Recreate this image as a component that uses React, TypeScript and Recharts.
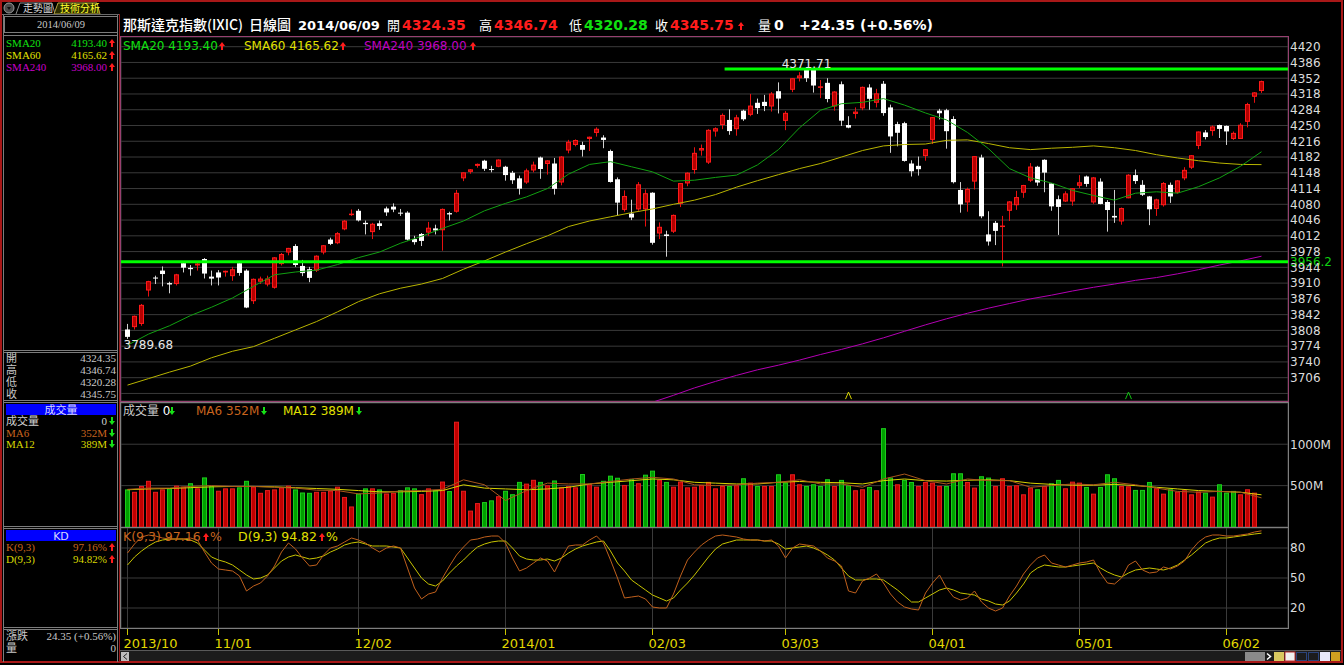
import React from "react";
import { ComposedChart, Bar, Line, XAxis, YAxis, CartesianGrid, ReferenceLine, ReferenceDot } from "recharts";

// NASDAQ (IXIC) daily, 2013/10/15 .. 2014/06/09, 163 sessions
const opens = [
  3810, 3815, 3822, 3894, 3922, 3937, 3910, 3908, 3953, 3943, 3948, 3962, 3924, 3933, 3933, 3925, 3953, 3937, 3871, 3913,
  3907, 3900, 3951, 3976, 3990, 3947, 3940, 3937, 3976, 4004, 3996, 4026, 4057, 4066, 4040, 4020, 4039, 4071, 4075, 4062,
  4062, 4005, 4016, 4019, 4028, 4024, 4061, 4064, 4136, 4150, 4163, 4174, 4156, 4161, 4161, 4148, 4136, 4127, 4153, 4181,
  4167, 4168, 4127, 4196, 4208, 4208, 4221, 4234, 4224, 4195, 4134, 4068, 4060, 4069, 4069, 4105, 4017, 4015, 4021, 4081,
  4125, 4154, 4196, 4170, 4237, 4251, 4262, 4242, 4282, 4273, 4299, 4301, 4291, 4324, 4260, 4327, 4352, 4370, 4370, 4333,
  4342, 4291, 4339, 4251, 4275, 4287, 4332, 4299, 4340, 4289, 4253, 4255, 4168, 4163, 4184, 4219, 4282, 4283, 4264, 4111,
  4084, 4129, 4181, 4015, 4040, 4032, 4066, 4078, 4105, 4131, 4161, 4176, 4125, 4091, 4086, 4086, 4120, 4140, 4084, 4129,
  4085, 4055, 4043, 4093, 4143, 4122, 4097, 4070, 4078, 4122, 4105, 4136, 4159, 4206, 4235, 4238, 4251, 4249, 4221, 4221,
  4258, 4312, 4324.35,
];
const highs = [
  3822, 3840, 3865, 3915, 3926, 3946, 3913, 3930, 3957, 3949, 3955, 3964, 3937, 3938, 3937, 3945, 3955, 3940, 3920, 3924,
  3926, 3966, 3975, 3986, 3994, 3960, 3945, 3970, 3992, 4008, 4020, 4046, 4069, 4070, 4045, 4040, 4045, 4075, 4082, 4070,
  4065, 4012, 4018, 4042, 4036, 4071, 4064, 4111, 4149, 4156, 4168, 4176, 4163, 4177, 4163, 4152, 4142, 4157, 4172, 4183,
  4175, 4180, 4184, 4219, 4220, 4215, 4226, 4246, 4229, 4198, 4138, 4110, 4090, 4128, 4112, 4106, 4041, 4023, 4058, 4126,
  4149, 4203, 4209, 4242, 4246, 4276, 4285, 4273, 4284, 4318, 4308, 4316, 4322, 4343, 4281, 4352, 4365, 4371.71, 4371, 4348,
  4352, 4324, 4345, 4270, 4289, 4334, 4339, 4329, 4346, 4295, 4258, 4258, 4175, 4183, 4199, 4268, 4286, 4286, 4270, 4128,
  4116, 4184, 4187, 4065, 4044, 4055, 4087, 4109, 4122, 4169, 4163, 4177, 4125, 4099, 4108, 4115, 4143, 4142, 4139, 4136,
  4089, 4111, 4073, 4145, 4155, 4132, 4098, 4092, 4128, 4127, 4132, 4160, 4186, 4237, 4240, 4250, 4252, 4250, 4237, 4255,
  4299, 4322, 4346.74,
];
const lows = [
  3789.68, 3810, 3818, 3881, 3908, 3903, 3888, 3905, 3933, 3926, 3937, 3920, 3905, 3905, 3924, 3915, 3926, 3856, 3865, 3908,
  3903, 3898, 3948, 3970, 3945, 3925, 3912, 3934, 3972, 3992, 3994, 4024, 4055, 4043, 4015, 4005, 4025, 4055, 4063, 4055,
  4002, 3993, 3990, 4012, 4015, 3980, 4045, 4062, 4130, 4146, 4159, 4152, 4149, 4160, 4131, 4124, 4101, 4124, 4149, 4135,
  4144, 4101, 4121, 4190, 4205, 4183, 4195, 4226, 4201, 4127, 4056, 4064, 4046, 4066, 4032, 3993, 4005, 3967, 4018, 4074,
  4119, 4146, 4185, 4167, 4226, 4242, 4230, 4228, 4260, 4270, 4275, 4281, 4280, 4276, 4240, 4322, 4345, 4344, 4321, 4309,
  4300, 4282, 4249, 4244, 4265, 4283, 4284, 4289, 4271, 4191, 4205, 4172, 4140, 4142, 4174, 4210, 4263, 4200, 4125, 4062,
  4064, 4112, 4050, 3991, 3992, 3946, 4044, 4068, 4094, 4128, 4120, 4106, 4066, 4014, 4085, 4077, 4115, 4118, 4081, 4080,
  4021, 4040, 4036, 4093, 4124, 4098, 4035, 4055, 4075, 4083, 4103, 4132, 4156, 4199, 4220, 4228, 4223, 4208, 4219, 4221,
  4246, 4299, 4320.28,
];
const closes = [
  3794.01, 3839.43, 3863.15, 3914.28, 3920.05, 3929.57, 3907.07, 3928.96, 3943.36, 3940.13, 3952.34, 3930.62, 3919.71, 3922.04, 3936.59, 3939.86, 3931.95, 3857.33, 3919.23, 3919.79,
  3919.92, 3965.58, 3972.74, 3985.97, 3949.07, 3931.55, 3921.27, 3969.15, 3991.65, 3994.57, 4017.75, 4044.75, 4059.89, 4045.26, 4037.2, 4038.0, 4033.16, 4062.52, 4068.75, 4060.49,
  4003.81, 3998.4, 4000.98, 4029.52, 4023.68, 4070.06, 4058.13, 4104.74, 4148.9, 4155.42, 4167.18, 4156.59, 4154.2, 4176.59, 4143.07, 4131.91, 4113.68, 4153.18, 4165.61, 4156.19,
  4174.67, 4113.3, 4183.02, 4214.88, 4218.69, 4197.58, 4225.76, 4243.0, 4218.87, 4128.17, 4083.61, 4097.96, 4051.43, 4123.13, 4103.88, 3996.96, 4031.52, 4011.55, 4057.12, 4125.86,
  4148.17, 4191.04, 4201.29, 4240.67, 4244.03, 4272.78, 4237.95, 4267.55, 4263.41, 4292.97, 4287.59, 4292.06, 4318.93, 4308.12, 4277.3, 4351.97, 4357.97, 4352.13, 4336.22, 4334.45,
  4307.19, 4323.33, 4260.42, 4245.4, 4279.95, 4333.31, 4307.6, 4319.29, 4276.79, 4226.39, 4234.27, 4173.58, 4151.23, 4155.76, 4198.99, 4268.04, 4276.46, 4237.74, 4127.73, 4079.75,
  4112.99, 4183.9, 4054.11, 3999.73, 4022.69, 4034.16, 4086.23, 4095.52, 4121.55, 4161.46, 4126.97, 4148.34, 4075.56, 4074.4, 4103.54, 4114.56, 4127.45, 4123.9, 4138.06, 4080.76,
  4067.67, 4051.5, 4071.87, 4143.86, 4130.17, 4100.63, 4069.29, 4090.59, 4125.82, 4096.89, 4131.54, 4154.34, 4185.81, 4237.07, 4225.08, 4247.95, 4242.62, 4237.2, 4234.08, 4251.64,
  4296.23, 4321.4, 4345.75,
];
const prevClose = 3815.28; // close before the first session

// volume, millions
const volumes = [
  454, 425, 496, 558, 425, 454, 467, 500, 487, 529, 467, 599, 496, 438, 467, 467, 479, 558, 487, 413,
  446, 454, 479, 500, 454, 417, 413, 425, 425, 438, 487, 363, 248, 405, 467, 467, 454, 405, 413, 446,
  479, 467, 397, 467, 446, 549, 434, 1272, 438, 198, 289, 301, 322, 372, 438, 396, 545, 524, 570, 545,
  504, 562, 479, 496, 479, 640, 516, 487, 558, 620, 595, 508, 578, 529, 632, 681, 570, 545, 487, 549,
  479, 487, 508, 545, 467, 496, 496, 505, 589, 536, 496, 496, 496, 637, 536, 637, 516, 496, 516, 496,
  577, 496, 569, 504, 444, 456, 484, 444, 1194, 597, 516, 569, 544, 496, 544, 536, 496, 496, 649, 649,
  544, 476, 613, 597, 496, 589, 496, 504, 395, 476, 456, 496, 528, 569, 468, 548, 536, 484, 403, 484,
  637, 589, 496, 492, 448, 448, 544, 468, 403, 456, 428, 444, 395, 428, 415, 367, 516, 415, 436, 395,
  456, 415, 0,
];

// moving averages, read every 3rd session
const sma20 = [
  3776, 3800, 3818, 3840, 3858, 3878, 3903, 3928, 3934, 3938, 3950, 3965, 3977, 3996, 4011, 4028, 4044, 4066, 4082, 4096,
  4114, 4145, 4166, 4172, 4161, 4150, 4130, 4132, 4138, 4143, 4165, 4198, 4245, 4283, 4297, 4300, 4308, 4294, 4277, 4262,
  4235, 4200, 4157, 4137, 4126, 4110, 4099, 4089, 4104, 4107, 4104, 4118, 4137, 4162, 4193.4,
];
const sma60 = [
  3690, 3704, 3718, 3731, 3749, 3763, 3773, 3791, 3809, 3827, 3848, 3870, 3887, 3899, 3908, 3920, 3940, 3958, 3977, 3995,
  4012, 4032, 4044, 4053, 4062, 4070, 4080, 4089, 4101, 4117, 4131, 4144, 4157, 4168, 4182, 4196, 4206, 4209, 4210, 4218,
  4219, 4211, 4202, 4198, 4201, 4203, 4206, 4202, 4196, 4187, 4180, 4174, 4169, 4166, 4165.62,
];
const SMA240_FROM = 75;
const sma240 = [
  3653, 3668, 3684, 3698, 3711, 3723, 3733, 3744, 3756, 3767, 3779, 3792, 3806, 3820, 3833, 3845, 3856, 3866, 3876, 3884,
  3893, 3901, 3908, 3916, 3922, 3930, 3939, 3949, 3958, 3968,
];
const volMa6 = [
  455, 470, 470, 490, 500, 490, 490, 480, 470, 445, 440, 400, 410, 435, 440, 455, 570, 510, 320, 440,
  530, 520, 520, 550, 580, 600, 580, 510, 500, 510, 530, 540, 570, 520, 520, 480, 580, 640, 560, 520,
  580, 560, 560, 480, 500, 520, 510, 540, 510, 470, 430, 420, 430, 420, 352,
];
const volMa12 = [
  450, 460, 465, 475, 485, 490, 490, 485, 475, 465, 455, 440, 425, 425, 430, 440, 510, 470, 460, 450,
  460, 480, 520, 540, 560, 580, 570, 540, 530, 520, 520, 540, 550, 540, 535, 520, 560, 580, 560, 555,
  565, 570, 560, 530, 515, 505, 505, 515, 500, 480, 460, 440, 430, 420, 389,
];

// KD(9,3)
const kLine = [
  75, 84, 91, 93, 92, 90, 89, 89, 89, 90, 88, 76, 65, 59, 58, 57, 52, 37, 42, 45,
  52, 62, 76, 85, 79, 70, 62, 63, 73, 80, 82, 86, 90, 88, 85, 80, 76, 80, 82, 80,
  60, 40, 29, 34, 36, 50, 62, 73, 81, 88, 89, 91, 92, 92, 85, 70, 57, 60, 65, 70,
  67, 56, 70, 82, 83, 83, 88, 92, 85, 68, 50, 30, 31, 32, 29, 21, 20, 20, 34, 52,
  68, 76, 83, 88, 92, 93, 92, 91, 89, 88, 88, 87, 88, 82, 70, 80, 84, 83, 82, 77,
  70, 67, 62, 37, 35, 47, 50, 54, 45, 34, 26, 21, 19, 18, 35, 45, 53, 40, 31, 28,
  30, 37, 26, 20, 17, 20, 32, 42, 54, 63, 70, 73, 65, 63, 61, 63, 65, 66, 68, 55,
  45, 44, 50, 63, 67, 58, 55, 56, 61, 59, 62, 67, 78, 86, 91, 93, 93, 92, 92, 93,
  94, 96, 97.16,
];
const dLine = [
  63, 71, 77, 82, 86, 88, 89, 89, 89, 88, 85, 78, 71, 68, 66, 63, 58, 53, 49, 50,
  53, 60, 67, 71, 73, 71, 69, 70, 72, 76, 79, 83, 85, 86, 84, 82, 82, 82, 81, 80,
  70, 60, 50, 44, 42, 47, 55, 62, 68, 75, 81, 84, 86, 87, 87, 80, 72, 69, 68, 68,
  69, 67, 70, 75, 79, 82, 84, 86, 87, 77, 65, 57, 48, 43, 38, 33, 30, 27, 30, 38,
  45, 53, 62, 71, 79, 84, 86, 88, 88, 88, 88, 87, 87, 84, 79, 80, 81, 82, 80, 77,
  73, 68, 60, 52, 48, 48, 49, 49, 48, 43, 38, 32, 26, 26, 30, 34, 38, 40, 38, 35,
  34, 33, 29, 27, 24, 23, 27, 35, 44, 55, 60, 63, 62, 61, 61, 62, 63, 64, 65, 60,
  56, 53, 51, 55, 58, 59, 60, 59, 58, 60, 63, 68, 73, 79, 85, 88, 90, 90, 91, 92,
  93, 94, 94.82,
];

const monthTicks = [0, 13, 33, 54, 75, 94, 115, 136, 157];
const monthLabels = ["2013/10", "11/01", "12/02", "2014/01", "02/03", "03/03", "04/01", "05/01", "06/02"];
const priceTicks = [
  3672, 3706, 3740, 3774, 3808, 3842, 3876, 3910, 3944, 3978, 4012, 4046, 4080, 4114, 4148, 4182, 4216, 4250, 4284,
  4318, 4352, 4386, 4420,
];
const volTicks = [500, 1000];
const kdTicks = [20, 50, 80];
const resistance = 4371.71;
const support = 3956.2;
const signalsUp = [103, 143];

const X_MIN = -6.5 / 7;
const X_MAX = X_MIN + 1167 / 7;
const CHART_W = 1219;

const rows = closes.map((c, i) => {
  const prev = i === 0 ? prevClose : closes[i - 1];
  const j = i - SMA240_FROM;
  return {
    i,
    open: opens[i],
    high: highs[i],
    low: lows[i],
    close: c,
    hl: [lows[i], highs[i]],
    vol: volumes[i],
    volUp: c >= prev,
    sma20: i % 3 === 0 ? sma20[i / 3] : null,
    sma60: i % 3 === 0 ? sma60[i / 3] : null,
    sma240: j >= 0 && j % 3 === 0 ? sma240[j / 3] : null,
    ma6: i % 3 === 0 ? volMa6[i / 3] : null,
    ma12: i % 3 === 0 ? volMa12[i / 3] : null,
    k: kLine[i],
    d: dLine[i],
  };
});

const last = rows.length - 1;
const chg = closes[last] - closes[last - 1];
const chgPct = (chg / closes[last - 1]) * 100;

const SANS = "'DejaVu Sans', 'Noto Sans CJK TC', sans-serif";
const SERIF = "'Liberation Serif', 'Noto Sans CJK TC', serif";
const CJK = "'Noto Sans CJK TC', sans-serif";

const RED = "#ff1c1c";
const UPGREEN = "#16e016";

function Candle(p: any) {
  const { x, y, width, height, payload } = p;
  if (!payload) return null;
  const { open, close, high, low } = payload;
  const up = close >= open;
  const c = Math.floor(x + width / 2);
  const k = high > low ? height / (high - low) : 0;
  const top = y + (high - Math.max(open, close)) * k;
  const bot = y + (high - Math.min(open, close)) * k;
  const h = Math.max(1, bot - top);
  return (
    <g>
      <line x1={c + 0.5} x2={c + 0.5} y1={y} y2={y + height} stroke={up ? "#e81010" : "#d0d0d0"} />
      {up ? (
        <rect x={c - 1.5} y={top + 0.5} width={4} height={Math.max(0.5, h - 1)} fill="#b40000" stroke="#ff1a1a" />
      ) : (
        <rect x={c - 2} y={top} width={5} height={h} fill="#ffffff" />
      )}
    </g>
  );
}

function VolBar(p: any) {
  const { x, y, width, height, payload } = p;
  if (!payload || !height || height <= 0) return null;
  const c = Math.floor(x + width / 2);
  const up = payload.volUp;
  return (
    <rect
      x={c - 1.5}
      y={y + 0.5}
      width={4}
      height={Math.max(0.5, height - 0.5)}
      fill={up ? "#c00000" : "#00a000"}
      stroke={up ? "#e41c1c" : "#1ccc1c"}
    />
  );
}

const rightTick = (fmt: (v: number) => string, skip: number[] = []) => (p: any) => {
  const v = p.payload.value;
  if (skip.includes(v)) return <g />;
  return (
    <text x={p.x} y={p.y} dy="0.36em" fill="#dcdcdc" fontSize={12} fontFamily={SANS} textAnchor="start">
      {fmt(v)}
    </text>
  );
};

function MonthTick(p: any) {
  const n = monthTicks.indexOf(p.payload.value);
  const x = Math.floor(p.x) + 0.5;
  return (
    <g>
      <line x1={x} x2={x} y1={p.y} y2={p.y + 7} stroke="#c8c400" />
      <text x={p.x - 4} y={p.y + 20} fill="#e2d800" fontSize={13} fontFamily={SANS}>
        {monthLabels[n]}
      </text>
    </g>
  );
}

// the level tag on the price axis, drawn on a black patch like the terminal does
function SupportTag(p: any) {
  const vb = p.viewBox || {};
  const x = (vb.x || 0) + (vb.width || 0) + 1;
  const y = vb.y || 0;
  return (
    <g>
      <rect x={x} y={y - 6} width={46} height={11} fill="#000" />
      <text x={x + 1} y={y} dy="0.36em" fill="#10d010" fontSize={12} fontFamily={SANS}>
        {String(support)}
      </text>
    </g>
  );
}

const xAxisHidden = (
  <XAxis
    type="number"
    dataKey="i"
    domain={[X_MIN, X_MAX]}
    allowDataOverflow
    ticks={monthTicks}
    interval={0}
    tick={false}
    axisLine={false}
    tickLine={false}
    height={0}
  />
);

function PriceChart() {
  return (
    <ComposedChart width={CHART_W} height={364} data={rows} margin={{ top: 0, right: 0, bottom: 0, left: 0 }} accessibilityLayer={false}>
      <CartesianGrid stroke="#3a3a3a" horizontal vertical />
      {xAxisHidden}
      <YAxis
        orientation="right"
        width={52}
        domain={[3655.7, 4440.9]}
        allowDataOverflow
        ticks={priceTicks}
        interval={0}
        tickSize={0}
        tickMargin={2}
        axisLine={false}
        tickLine={false}
        tick={rightTick((v) => String(v), [3672])}
      />
      <Line dataKey="sma240" stroke="#b400b4" dot={false} connectNulls isAnimationActive={false} strokeWidth={1} />
      <Line dataKey="sma60" stroke="#b8b400" dot={false} connectNulls isAnimationActive={false} strokeWidth={1} />
      <Line dataKey="sma20" stroke="#12a012" dot={false} connectNulls isAnimationActive={false} strokeWidth={1} />
      <Bar dataKey="hl" barSize={5} shape={Candle} isAnimationActive={false} />
      <ReferenceDot
        x={97}
        y={resistance}
        r={1}
        shape={(p: any) => (
          <text x={p.cx} y={p.cy - 1} textAnchor="middle" fill="#e8e8e8" fontSize={12} fontFamily={SANS}>
            {resistance.toFixed(2)}
          </text>
        )}
      />
      <ReferenceDot
        x={0}
        y={lows[0]}
        r={1}
        shape={(p: any) => (
          <text x={p.cx - 4} y={p.cy + 10.5} fill="#e8e8e8" fontSize={12} fontFamily={SANS}>
            {lows[0].toFixed(2)}
          </text>
        )}
      />
      {signalsUp.map((s, n) => (
        <ReferenceDot
          key={s}
          x={s}
          y={3662}
          r={1}
          shape={(p: any) => (
            <path
              d={`M${p.cx - 3} ${p.cy + 1} L${p.cx} ${p.cy - 6} L${p.cx + 3} ${p.cy + 1}`}
              stroke={n === 0 ? "#d8d400" : "#10c010"}
              fill="none"
            />
          )}
        />
      ))}
      <ReferenceLine
        segment={[
          { x: 85.3, y: resistance },
          { x: X_MAX, y: resistance },
        ]}
        stroke="#00ff00"
        strokeWidth={3}
      />
      <ReferenceLine y={support} stroke="#00ff00" strokeWidth={3} label={<SupportTag />} />
    </ComposedChart>
  );
}

function VolumeChart() {
  return (
    <ComposedChart width={CHART_W} height={124} data={rows} margin={{ top: 0, right: 0, bottom: 0, left: 0 }} accessibilityLayer={false}>
      <CartesianGrid stroke="#3a3a3a" horizontal vertical />
      {xAxisHidden}
      <YAxis
        orientation="right"
        width={52}
        domain={[0, 1498]}
        allowDataOverflow
        ticks={volTicks}
        interval={0}
        tickSize={0}
        tickMargin={2}
        axisLine={false}
        tickLine={false}
        tick={rightTick((v) => `${v}M`)}
      />
      <Bar dataKey="vol" barSize={5} shape={VolBar} isAnimationActive={false} />
      <Line dataKey="ma12" stroke="#d8d400" dot={false} connectNulls isAnimationActive={false} strokeWidth={1} />
      <Line dataKey="ma6" stroke="#a8561c" dot={false} connectNulls isAnimationActive={false} strokeWidth={1} />
    </ComposedChart>
  );
}

function KdChart() {
  return (
    <ComposedChart width={CHART_W} height={122} data={rows} margin={{ top: 0, right: 0, bottom: 0, left: 0 }} accessibilityLayer={false}>
      <CartesianGrid stroke="#3a3a3a" horizontal vertical />
      <XAxis
        type="number"
        dataKey="i"
        domain={[X_MIN, X_MAX]}
        allowDataOverflow
        ticks={monthTicks}
        interval={0}
        axisLine={false}
        tickLine={false}
        tickSize={0}
        tickMargin={0}
        height={22}
        tick={MonthTick}
      />
      <YAxis
        orientation="right"
        width={52}
        domain={[0, 100]}
        allowDataOverflow
        ticks={kdTicks}
        interval={0}
        tickSize={0}
        tickMargin={2}
        axisLine={false}
        tickLine={false}
        tick={rightTick((v) => String(v))}
      />
      <Line dataKey="d" stroke="#c8c400" dot={false} isAnimationActive={false} strokeWidth={1} />
      <Line dataKey="k" stroke="#c0601c" dot={false} isAnimationActive={false} strokeWidth={1} />
    </ComposedChart>
  );
}

const Up = ({ x, y }: { x: number; y: number }) => (
  <path d={`M${x} ${y - 8} L${x - 3} ${y - 4} L${x - 1} ${y - 4} L${x - 1} ${y} L${x + 1} ${y} L${x + 1} ${y - 4} L${x + 3} ${y - 4} Z`} fill={RED} />
);
const Down = ({ x, y }: { x: number; y: number }) => (
  <path d={`M${x} ${y} L${x - 3} ${y - 4} L${x - 1} ${y - 4} L${x - 1} ${y - 8} L${x + 1} ${y - 8} L${x + 1} ${y - 4} L${x + 3} ${y - 4} Z`} fill={UPGREEN} />
);

function LeftRow({ y, label, value, color, arrow }: { y: number; label: string; value: string; color: string; arrow?: "up" | "down" }) {
  return (
    <g>
      <text x={6} y={y} fill={color} fontSize={11} fontFamily={SERIF}>
        {label}
      </text>
      <text x={arrow ? 107 : 116} y={y} fill={color} fontSize={11} fontFamily={SERIF} textAnchor="end">
        {value}
      </text>
      {arrow === "up" && <Up x={112} y={y} />}
      {arrow === "down" && <Down x={112} y={y} />}
    </g>
  );
}

function Decorations() {
  const grey = "#7c7c7c";
  const dbl = (y: number) => (
    <g>
      <line x1={4} x2={118} y1={y + 0.5} y2={y + 0.5} stroke={grey} />
      <line x1={4} x2={118} y1={y + 2.5} y2={y + 2.5} stroke={grey} />
    </g>
  );
  return (
    <svg width={1344} height={665} style={{ position: "absolute", left: 0, top: 0, pointerEvents: "none" }}>
      {/* frame */}
      <rect x={1} y={1} width={1341} height={661} fill="none" stroke="#a81818" strokeWidth={2} />
      <line x1={119.5} x2={119.5} y1={14} y2={662} stroke="#9a1a1a" />
      {/* tabs */}
      <circle cx={9} cy={8} r={5} fill="#4a4a4a" stroke="#9a9a9a" />
      <path d="M7 7 L11 7 L9 10 Z" fill="#111" />
      <path d="M16 14 L20 3 L52 3 L55 14" fill="none" stroke="#8a8a8a" />
      <text x={23} y={12} fill="#d8d8d8" fontSize={10} fontFamily={CJK}>走勢圖</text>
      <path d="M54 14 L58 3 L97 3 L100 14 Z" fill="#2c2c00" stroke="#b0a040" />
      <text x={60} y={12} fill="#ffff30" fontSize={10} fontFamily={CJK}>技術分析</text>
      <line x1={2} x2={119} y1={14.5} y2={14.5} stroke="#6a6a6a" />
      {/* left panel */}
      <line x1={3.5} x2={3.5} y1={15} y2={662} stroke={grey} />
      <line x1={117.5} x2={117.5} y1={15} y2={662} stroke={grey} />
      <rect x={4.5} y={16.5} width={113} height={16} fill="none" stroke={grey} />
      <text x={61} y={28} fill="#c8c8c8" fontSize={10.5} fontFamily={SERIF} textAnchor="middle">2014/06/09</text>
      <line x1={4} x2={118} y1={35.5} y2={35.5} stroke={grey} />
      <LeftRow y={47} label="SMA20" value={sma20[sma20.length - 1].toFixed(2)} color="#10e010" arrow="up" />
      <LeftRow y={59} label="SMA60" value={sma60[sma60.length - 1].toFixed(2)} color="#e0e000" arrow="up" />
      <LeftRow y={71} label="SMA240" value={sma240[sma240.length - 1].toFixed(2)} color="#c800c8" arrow="up" />
      {dbl(350)}
      <LeftRow y={362} label="開" value={opens[last].toFixed(2)} color="#c8c8c8" />
      <LeftRow y={374} label="高" value={highs[last].toFixed(2)} color="#c8c8c8" />
      <LeftRow y={386} label="低" value={lows[last].toFixed(2)} color="#c8c8c8" />
      <LeftRow y={398} label="收" value={closes[last].toFixed(2)} color="#c8c8c8" />
      {dbl(400)}
      <rect x={6} y={404} width={110} height={11} fill="#0000ff" />
      <text x={61} y={413.5} fill="#d8d8ff" fontSize={11} fontFamily={CJK} textAnchor="middle">成交量</text>
      <LeftRow y={425} label="成交量" value={String(volumes[last])} color="#d0d0d0" arrow="down" />
      <LeftRow y={437} label="MA6" value={`${volMa6[volMa6.length - 1]}M`} color="#c8641e" arrow="down" />
      <LeftRow y={448} label="MA12" value={`${volMa12[volMa12.length - 1]}M`} color="#d8d800" arrow="down" />
      {dbl(526)}
      <rect x={6} y={530} width={110} height={11} fill="#0000ff" />
      <text x={61} y={539.5} fill="#d8d8ff" fontSize={11} fontFamily={SANS} textAnchor="middle">KD</text>
      <LeftRow y={551} label="K(9,3)" value={`${kLine[last].toFixed(2)}%`} color="#c8641e" arrow="up" />
      <LeftRow y={563} label="D(9,3)" value={`${dLine[last].toFixed(2)}%`} color="#d8d800" arrow="up" />
      {dbl(627)}
      <LeftRow y={640} label="漲跌" value={`${chg.toFixed(2)} (+${chgPct.toFixed(2)}%)`} color="#c8c8c8" />
      <LeftRow y={652} label="量" value={String(volumes[last])} color="#c8c8c8" />
      {/* header */}
      <text x={123} y={30} fill="#ffffff" fontSize={14} fontFamily={CJK} fontWeight={500}>那斯達克指數(IXIC)</text>
      <text x={249} y={30} fill="#ffffff" fontSize={14} fontFamily={CJK} fontWeight={500}>日線圖</text>
      <text x={298} y={30} fill="#ffffff" fontSize={13} fontFamily={SANS} fontWeight="bold">2014/06/09</text>
      <text x={387} y={30} fill="#ffffff" fontSize={13} fontFamily={CJK}>開</text>
      <text x={402} y={30} fill={RED} fontSize={14} fontFamily={SANS} fontWeight="bold">{opens[last].toFixed(2)}</text>
      <text x={479} y={30} fill="#ffffff" fontSize={13} fontFamily={CJK}>高</text>
      <text x={494} y={30} fill={RED} fontSize={14} fontFamily={SANS} fontWeight="bold">{highs[last].toFixed(2)}</text>
      <text x={569} y={30} fill="#ffffff" fontSize={13} fontFamily={CJK}>低</text>
      <text x={584} y={30} fill="#10e010" fontSize={14} fontFamily={SANS} fontWeight="bold">{lows[last].toFixed(2)}</text>
      <text x={655} y={30} fill="#ffffff" fontSize={13} fontFamily={CJK}>收</text>
      <text x={670} y={30} fill={RED} fontSize={14} fontFamily={SANS} fontWeight="bold">{closes[last].toFixed(2)}</text>
      <Up x={741} y={30} />
      <text x={758} y={30} fill="#ffffff" fontSize={13} fontFamily={CJK}>量</text>
      <text x={774} y={30} fill="#ffffff" fontSize={14} fontFamily={SANS} fontWeight="bold">{volumes[last]}</text>
      <text x={799} y={30} fill="#ffffff" fontSize={14} fontFamily={SANS} fontWeight="bold">
        {`+${chg.toFixed(2)} (+${chgPct.toFixed(2)}%)`}
      </text>
    </svg>
  );
}

function Overlay() {
  return (
    <svg width={1344} height={665} style={{ position: "absolute", left: 0, top: 0, pointerEvents: "none" }}>
      {/* panel borders */}
      <rect x={120.5} y={36.5} width={1168} height={365} fill="none" stroke="#964070" />
      <rect x={120.5} y={402.5} width={1168} height={125} fill="none" stroke="#7e7e7e" />
      <rect x={120.5} y={527.5} width={1168} height={101} fill="none" stroke="#7e7e7e" />
      {/* price legend */}
      <text x={123} y={50} fill="#10e010" fontSize={12} fontFamily={SANS}>{`SMA20 ${sma20[sma20.length - 1].toFixed(2)}`}</text>
      <Up x={222} y={50} />
      <text x={244} y={50} fill="#e0e000" fontSize={12} fontFamily={SANS}>{`SMA60 ${sma60[sma60.length - 1].toFixed(2)}`}</text>
      <Up x={343} y={50} />
      <text x={364} y={50} fill="#c000c0" fontSize={12} fontFamily={SANS}>{`SMA240 ${sma240[sma240.length - 1].toFixed(2)}`}</text>
      <Up x={473} y={50} />
      {/* volume legend */}
      <text x={123} y={415} fontSize={12} fontFamily={SANS}>
        <tspan fill="#c8c8c8">成交量</tspan>
        <tspan fill="#ffffff">{` ${volumes[last]}`}</tspan>
      </text>
      <Down x={172} y={415} />
      <text x={196} y={415} fill="#c8641e" fontSize={12} fontFamily={SANS}>{`MA6 ${volMa6[volMa6.length - 1]}M`}</text>
      <Down x={264} y={415} />
      <text x={283} y={415} fill="#e0e000" fontSize={12} fontFamily={SANS}>{`MA12 ${volMa12[volMa12.length - 1]}M`}</text>
      <Down x={359} y={415} />
      {/* KD legend */}
      <text x={123} y={541} fill="#c8641e" fontSize={12.5} fontFamily={SANS}>{`K(9,3) ${kLine[last].toFixed(2)}`}</text>
      <Up x={206} y={541} />
      <text x={210} y={541} fill="#c8641e" fontSize={12.5} fontFamily={SANS}>%</text>
      <text x={238} y={541} fill="#e0e000" fontSize={12.5} fontFamily={SANS}>{`D(9,3) ${dLine[last].toFixed(2)}`}</text>
      <Up x={322} y={541} />
      <text x={326} y={541} fill="#e0e000" fontSize={12.5} fontFamily={SANS}>%</text>
      {/* scroll bar */}
      <line x1={120} x2={1341} y1={650.5} y2={650.5} stroke="#5a5a5a" />
      <rect x={120} y={651} width={1221} height={10} fill="#1c1c1c" />
      <rect x={121} y={652} width={8} height={9} fill="#bcbcbc" />
      <path d="M127 653.5 L123.5 656.5 L127 659.5" stroke="#222" fill="none" />
      <rect x={1245} y={652} width={20} height={9} fill="#8a8a8a" />
      <path d="M1267 653.5 L1270.5 656.5 L1267 659.5" stroke="#ffffff" fill="none" strokeWidth={1.5} />
      <rect x={1274} y={652} width={10} height={9} fill="#d8c860" />
      <rect x={1285} y={652} width={10} height={9} fill="#f0f0f0" stroke="#c03030" />
      <rect x={1296.5} y={652.5} width={10} height={8} fill="none" stroke="#3a6ad8" strokeDasharray="1 1" />
      <rect x={1308.5} y={652.5} width={10} height={8} fill="none" stroke="#3a6ad8" strokeDasharray="1 1" />
      <rect x={1320} y={652} width={10} height={9} fill="#e8e8f8" />
      <rect x={1331} y={652} width={9} height={9} fill="#d0a020" />
    </svg>
  );
}

export default function App() {
  return (
    <div style={{ position: "absolute", left: 0, top: 0, width: 1344, height: 665, background: "#000", overflow: "hidden" }}>
      <Decorations />
      <div style={{ position: "absolute", left: 121, top: 37, width: CHART_W, height: 364 }}>
        <PriceChart />
      </div>
      <div style={{ position: "absolute", left: 121, top: 403, width: CHART_W, height: 124 }}>
        <VolumeChart />
      </div>
      <div style={{ position: "absolute", left: 121, top: 528, width: CHART_W, height: 122 }}>
        <KdChart />
      </div>
      <Overlay />
    </div>
  );
}
